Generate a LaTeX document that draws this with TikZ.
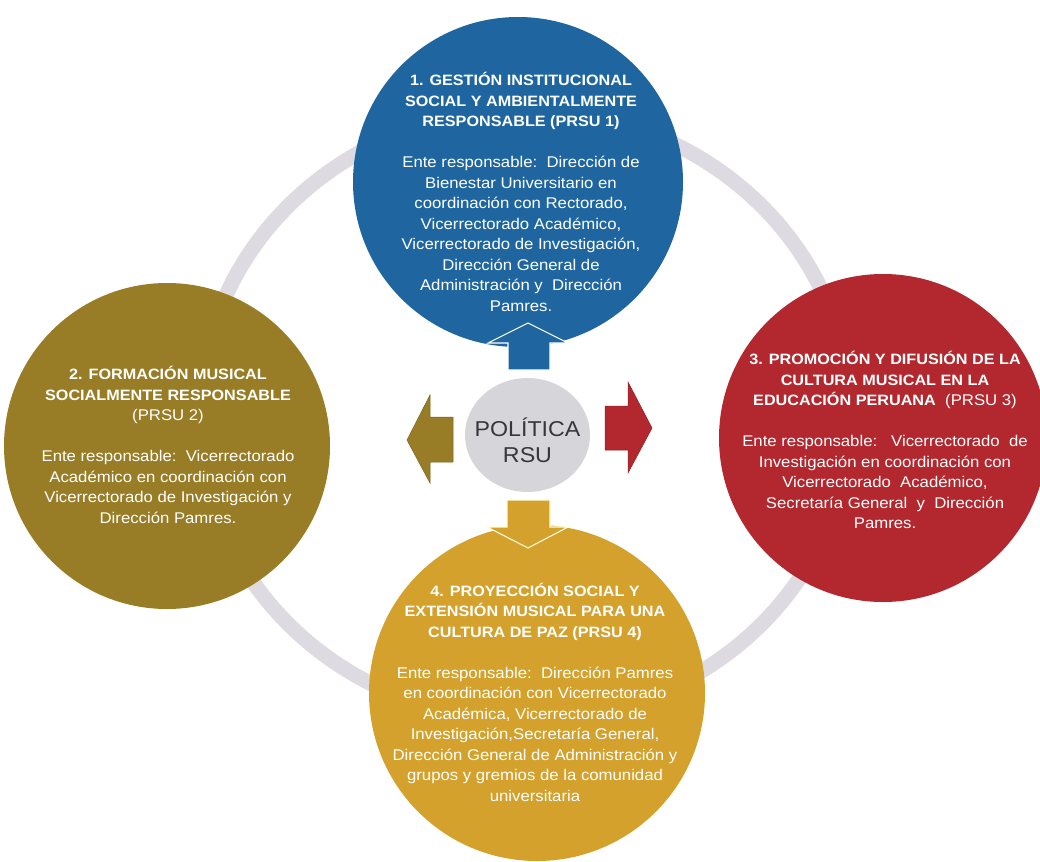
\documentclass[tikz,border=0pt]{standalone}
\usepackage{fontspec}
\usetikzlibrary{shapes.geometric}
\setmainfont{Liberation Sans}
\newfontfamily\wsans[FakeStretch=1.08]{Liberation Sans}
\definecolor{blueC}{RGB}{31,102,160}
\definecolor{oliveC}{RGB}{152,124,38}
\definecolor{redC}{RGB}{178,40,46}
\definecolor{goldC}{RGB}{211,161,44}
\definecolor{ringC}{RGB}{221,219,225}
\definecolor{centerC}{RGB}{214,213,217}
\definecolor{centerT}{RGB}{55,55,58}
\newcommand{\ttl}[1]{{\fontsize{15}{20.5}\selectfont\bfseries #1}}
\tikzset{
  bigcirc/.style={circle, inner sep=0pt, minimum size=#1},
  txt/.style={align=center, text=white, inner sep=0pt,
    font=\wsans\fontsize{15.5}{20.5}\selectfont},
  arrowshape/.style={line width=1.1pt, line join=miter},
}
\begin{document}
\begin{tikzpicture}[x=1pt,y=-1pt]
\useasboundingbox (0,0) rectangle (1040,861);
% ring
\draw[ringC, line width=15pt] (525,415) ellipse [x radius=325, y radius=305];
% circles
\node[bigcirc=330pt, fill=blueC] (c1) at (518,182) {};
\node[bigcirc=326pt, fill=oliveC] (c2) at (167,446) {};
\node[bigcirc=328pt, fill=redC] (c3) at (883,438) {};
\node[bigcirc=336pt, fill=goldC] (c4) at (537,693) {};
% arrows
\filldraw[arrowshape, fill=blueC, draw=white] (508,370) -- (508,343) -- (488,343) -- (528,323) -- (568,343) -- (550,343) -- (550,370) -- cycle;
\filldraw[arrowshape, fill=goldC, draw=white!85!yellow] (507,500) -- (550,500) -- (550,527) -- (568,527) -- (528,548) -- (487,527) -- (507,527) -- cycle;
\filldraw[arrowshape, fill=oliveC, draw=oliveC!80!black, line width=0.5pt] (453,417) -- (430,417) -- (430,395) -- (407,440) -- (430,483) -- (430,462) -- (453,462) -- cycle;
\filldraw[arrowshape, fill=redC, draw=redC!80!black, line width=0.5pt] (605,406) -- (628,406) -- (628,382) -- (652,428) -- (628,473) -- (628,450) -- (605,450) -- cycle;
% center
\node[ellipse, fill=centerC, minimum width=125pt, minimum height=114pt, inner sep=0pt] (c0) at (527.5,435) {};
\node[align=center, text=centerT, inner sep=0pt, font=\wsans\fontsize{21.5}{26}\selectfont] (t0) at (527.5,440) {POLÍTICA\\RSU};
% texts
\node[txt] (t1) at (521,192) {\ttl{1. GESTIÓN INSTITUCIONAL}\\\ttl{SOCIAL Y AMBIENTALMENTE}\\\ttl{RESPONSABLE (PRSU 1)}\\[20.5pt]
Ente responsable:\ \ Dirección de\\Bienestar Universitario en\\coordinación con Rectorado,\\Vicerrectorado Académico,\\Vicerrectorado de Investigación,\\Dirección General de\\Administración y\ \ Dirección\\Pamres.};
\node[txt] (t2) at (168,445) {\ttl{2. FORMACIÓN MUSICAL}\\\ttl{SOCIALMENTE RESPONSABLE}\\(PRSU 2)\\[20.5pt]
Ente responsable:\ \ Vicerrectorado\\Académico en coordinación con\\Vicerrectorado de Investigación y\\Dirección Pamres.};
\node[txt] (t3) at (885,440) {\ttl{3. PROMOCIÓN Y DIFUSIÓN DE LA}\\\ttl{CULTURA MUSICAL EN LA}\\\ttl{EDUCACIÓN PERUANA}\ \ (PRSU 3)\\[20.5pt]
Ente responsable:\ \ \ Vicerrectorado\ \ de\\Investigación en coordinación con\\Vicerrectorado\ \ Académico,\\Secretaría General\ \ y\ \ Dirección\\Pamres.};
\node[txt] (t4) at (535,692) {\ttl{4. PROYECCIÓN SOCIAL Y}\\\ttl{EXTENSIÓN MUSICAL PARA UNA}\\\ttl{CULTURA DE PAZ (PRSU 4)}\\[20.5pt]
Ente responsable:\ \ Dirección Pamres\\en coordinación con Vicerrectorado\\Académica, Vicerrectorado de\\Investigación,Secretaría General,\\Dirección General de Administración y\\grupos y gremios de la comunidad\\universitaria};
\end{tikzpicture}
\end{document}
